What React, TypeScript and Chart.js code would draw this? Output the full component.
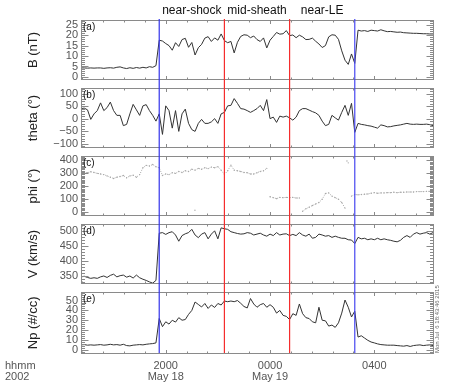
import React, { useEffect, useRef } from 'react';
import { Chart, registerables } from 'chart.js';

Chart.register(...registerables);

const FONT = '"Liberation Sans", Arial, Helvetica, sans-serif';
const AXIS = '#8a8a8a';
const LABEL = '#555';

// time axis: hours since 00:00 UT 18 May 2002
const X_MIN = 16.75;
const X_MAX = 30.25;
const T0 = 16.75; // first sample
const DT = 0.125; // sample spacing (h)
const X_MAJOR = [20, 24, 28];
const X_MINOR = 0.8;
const X_TICK_LABELS: Record<number, string[]> = { 20: ['2000', 'May 18'], 24: ['0000', 'May 19'], 28: ['0400'] };
const X_UNIT_LABEL = ['hhmm', '2002'];

// event lines
const EVENT_TIMES = [19.75, 22.25, 24.75, 27.25];
const EVENT_COLORS = ['rgb(52,52,235)', 'rgb(245,45,45)', 'rgb(245,45,45)', 'rgb(70,70,240)'];
const REGION_LABELS = ['near-shock', 'mid-sheath', 'near-LE'];
const STAMP = 'Mon Jul  6 18:43:46 2015';

// (a) |B| nT
const B_NT = [
  4.3, 4.3, 4.2, 4.3, 4.2, 4.3, 4.3, 4.1, 4.3, 4.4,
  4.2, 4.6, 4.8, 4.3, 4.0, 4.4, 4.1, 4.5, 4.2, 4.6,
  4.3, 4.9, 4.6, 5.4, 17.6, 17.2, 16.0, 15.0, 12.8, 16.4,
  14.6, 17.9, 18.5, 14.2, 16.5, 10.5, 14.0, 15.6, 18.6, 19.3,
  17.0, 18.7, 17.6, 20.6, 17.4, 16.4, 17.0, 11.5, 16.6, 19.4,
  20.2, 20.0, 18.8, 19.6, 17.9, 17.0, 18.7, 13.9, 17.6, 19.4,
  21.3, 20.5, 20.7, 22.2, 19.8, 20.1, 18.8, 20.0, 19.2, 17.9,
  18.0, 18.6, 17.1, 15.8, 14.1, 15.0, 19.2, 20.2, 20.0, 18.0,
  12.5, 8.0, 6.0, 11.0, 6.5, 22.4, 22.0, 22.2, 21.8, 22.4,
  22.2, 22.0, 22.6, 22.1, 21.7, 21.8, 21.6, 21.4, 21.5, 21.2,
  21.1, 21.0, 20.9, 20.9, 20.8, 20.7, 20.7, 20.6, 20.6,
];

// (b) theta deg
const THETA = [
  40, 42, 35, -3, 19, 32, 63, 32, 44, 66,
  32, 13, 13, -28, -23, 19, 57, 35, 13, 51,
  56, 32, 13, -10, 19, -63, 51, 32, -38, 32,
  -51, 19, 38, -19, -44, -51, -19, -3, -19, -19,
  -13, 0, -19, 19, 25, 51, 53, 80, 61, 40,
  38, 32, 25, 32, 40, 53, 32, 76, 0, 6,
  -15, 10, 6, 10, 3, -6, 6, 32, 40, 40,
  34, 28, 23, 13, -10, -28, -23, 13, 3, -6,
  25, 53, 13, 61, -55, -19, -23, -25, -28, -30,
  -34, -38, -25, -28, -33, -32, -29, -27, -25, -22,
  -19, -22, -23, -22, -23, -23, -22, -24, -28,
];

// (c) phi deg
const PHI = [
  314, 306, 304, 311, 306, 299, 294, 289, 279, 269,
  259, 269, 274, 282, 264, 279, 284, 269, 289, 343,
  361, 356, 368, 351, 343, 282, 294, 289, 304, 299,
  314, 306, 319, 314, 331, 324, 338, 331, 343, 336,
  348, 343, 351, 324, 289, 319, 363, 324, 319, 314,
  306, 304, 294, 294, 304, 314, 319, 338, 116, 109,
  101, 111, 109, 111, 109, 111, 106, 106, 2, 22,
  34, 47, 59, 71, 96, 141, 146, 121, 109, 96,
  71, 27, 381, 121, 133, 131, 133, 136, 138, 143,
  148, 143, 146, 146, 148, 148, 151, 148, 151, 151,
  153, 153, 153, 156, 156, 156, 158, 158, 160,
];
const PHI_EXTRA_T = [21.12, 26.95];
const PHI_EXTRA_V = [10, 395];

// (d) V km/s
const V_KMS = [
  346, 348, 344, 341, 343, 341, 346, 349, 344, 351,
  355, 346, 350, 352, 345, 349, 342, 352, 343, 338,
  334, 329, 325, 334, 493, 495, 489, 495, 498, 487,
  466, 485, 491, 495, 506, 487, 478, 490, 495, 474,
  490, 501, 474, 511, 508, 506, 498, 495, 492, 490,
  491, 495, 493, 487, 490, 493, 487, 483, 490, 485,
  495, 487, 490, 491, 485, 489, 485, 495, 487, 483,
  490, 476, 479, 490, 487, 483, 485, 479, 483, 479,
  476, 476, 471, 470, 458, 479, 474, 476, 471, 474,
  471, 476, 471, 474, 471, 469, 466, 464, 469, 479,
  485, 479, 490, 495, 490, 493, 495, 490, 495,
];

// (e) Np #/cc
const NP = [
  5.2, 5.5, 4.9, 5.2, 4.9, 5.2, 5.5, 4.9, 5.2, 5.8,
  5.2, 5.5, 4.9, 5.8, 4.5, 4.2, 4.9, 5.2, 5.5, 5.2,
  5.8, 6.2, 6.5, 7.2, 31.8, 23.6, 28.5, 26.2, 30.1, 28.2,
  32.7, 30.1, 30.8, 36.0, 40.0, 48.5, 46.0, 43.5, 47.0, 42.0,
  45.5, 43.0, 47.0, 45.5, 49.5, 48.8, 49.5, 48.8, 50.0, 47.2,
  44.0, 42.5, 52.0, 46.5, 43.2, 45.8, 47.0, 43.2, 45.8, 43.2,
  37.3, 40.0, 35.0, 34.0, 30.8, 36.7, 35.0, 46.5, 36.7, 32.7,
  31.8, 28.5, 27.5, 43.2, 30.1, 29.5, 24.2, 25.2, 22.9, 27.5,
  37.3, 50.5, 43.2, 33.4, 39.3, 13.1, 14.4, 12.1, 9.8, 8.1,
  7.2, 6.2, 5.5, 5.2, 4.9, 4.9, 4.9, 4.5, 4.2, 3.9,
  4.5, 3.6, 4.5, 4.9, 5.2, 4.5, 4.9, 5.2, 4.5,
];

type Panel = {
  tag: string;
  title: string;
  values: number[];
  range: [number, number];
  ticks: number[];
  minor: number;
  top: number;
  dotted?: boolean;
  showX?: boolean;
};

const PANEL_H = 62;
const PAD_T = 8;
const X_AXIS_H = 34;

const PANELS: Panel[] = [
  { tag: '(a)', title: 'B (nT)', values: B_NT, range: [-1.2, 27], ticks: [0, 5, 10, 15, 20, 25], minor: 1, top: 19 },
  { tag: '(b)', title: 'theta (°)', values: THETA, range: [-115, 120], ticks: [-100, -50, 0, 50, 100], minor: 10, top: 87 },
  { tag: '(c)', title: 'phi (°)', values: PHI, range: [-30, 430], ticks: [0, 100, 200, 300, 400], minor: 10, top: 155, dotted: true },
  { tag: '(d)', title: 'V (km/s)', values: V_KMS, range: [324, 522], ticks: [350, 400, 450, 500], minor: 10, top: 223 },
  { tag: '(e)', title: 'Np (#/cc)', values: NP, range: [-3, 58], ticks: [0, 10, 20, 30, 40, 50], minor: 2, top: 291, showX: true },
];

const canvasH = (p: Panel) => PAD_T + PANEL_H + (p.showX ? X_AXIS_H : 8);

function framePlugin(p: Panel) {
  return {
    id: 'frame',
    afterDraw(chart: any) {
      const { ctx, chartArea: a } = chart;
      const xs = chart.scales.x;
      const ys = chart.scales.y;
      const L = Math.floor(a.left) + 0.5;
      const R = Math.floor(a.right) + 0.5;
      const T = Math.floor(a.top) + 0.5;
      const B = Math.floor(a.bottom) + 0.5;
      ctx.save();
      ctx.strokeStyle = AXIS;
      ctx.lineWidth = 1;
      ctx.strokeRect(L, T, R - L, B - T);
      ctx.beginPath();
      for (let k = Math.ceil(p.range[0] / p.minor); k * p.minor <= p.range[1]; k++) {
        const v = k * p.minor;
        const major = p.ticks.some((t) => Math.abs(t - v) < 1e-6);
        const y = Math.round(ys.getPixelForValue(v)) + 0.5;
        const len = major ? 7 : 3.5;
        ctx.moveTo(L, y); ctx.lineTo(L + len, y);
        ctx.moveTo(R, y); ctx.lineTo(R - len, y);
      }
      for (let k = -10; k <= 20; k++) {
        const v = X_MAJOR[0] + k * X_MINOR;
        if (v < X_MIN || v > X_MAX) continue;
        const major = k % 5 === 0;
        const x = Math.round(xs.getPixelForValue(v)) + 0.5;
        const len = major ? 3.5 : 2;
        ctx.moveTo(x, T); ctx.lineTo(x, T + len);
        ctx.moveTo(x, B); ctx.lineTo(x, B - len);
      }
      ctx.stroke();
      ctx.fillStyle = '#111';
      ctx.font = `10px ${FONT}`;
      ctx.textBaseline = 'top';
      ctx.textAlign = 'left';
      ctx.fillText(p.tag, a.left + 2, a.top + 2);
      if (p.showX) {
        ctx.fillStyle = LABEL;
        ctx.font = `11px ${FONT}`;
        ctx.textBaseline = 'middle';
        const y0 = xs.top + 7 + 5.5;
        X_UNIT_LABEL.forEach((s, i) => ctx.fillText(s, 5, y0 + i * 11));
      }
      ctx.restore();
    },
  };
}

function panelConfig(p: Panel): any {
  const series = p.values.map((v, i) => ({ x: T0 + i * DT, y: v }));
  const datasets: any[] = [];
  if (p.dotted) {
    datasets.push({
      data: series,
      borderColor: '#a8a8a8',
      borderWidth: 1,
      borderDash: [1, 1.5],
      pointRadius: 0.7,
      pointBorderWidth: 0,
      pointBackgroundColor: '#a8a8a8',
      segment: {
        borderColor: (c: any) => (Math.abs(c.p0.parsed.y - c.p1.parsed.y) > 90 ? 'rgba(0,0,0,0)' : '#a8a8a8'),
      },
    });
    datasets.push({
      data: PHI_EXTRA_T.map((t, i) => ({ x: t, y: PHI_EXTRA_V[i] })),
      showLine: false,
      pointRadius: 0.7,
      pointBorderWidth: 0,
      pointBackgroundColor: '#a8a8a8',
    });
  } else {
    datasets.push({ data: series, borderColor: '#333', borderWidth: 1, pointRadius: 0, tension: 0 });
  }
  return {
    type: 'line',
    data: { datasets },
    options: {
      responsive: false,
      maintainAspectRatio: false,
      animation: false,
      events: [],
      layout: { padding: { left: 0, right: 19, top: PAD_T, bottom: p.showX ? 0 : 8 } },
      plugins: { legend: { display: false }, tooltip: { enabled: false } },
      scales: {
        x: {
          type: 'linear',
          min: X_MIN,
          max: X_MAX,
          display: !!p.showX,
          grid: { display: false, drawTicks: false },
          border: { display: false },
          afterBuildTicks: (s: any) => { s.ticks = X_MAJOR.map((v) => ({ value: v })); },
          afterFit: (s: any) => { s.height = p.showX ? X_AXIS_H : 0; },
          ticks: {
            autoSkip: false,
            maxRotation: 0,
            padding: 7,
            color: LABEL,
            font: { family: FONT, size: 11, lineHeight: 1 },
            callback: (v: number) => X_TICK_LABELS[v] || '',
          },
        },
        y: {
          type: 'linear',
          min: p.range[0],
          max: p.range[1],
          grid: { display: false, drawTicks: false },
          border: { display: false },
          afterBuildTicks: (s: any) => { s.ticks = p.ticks.map((v) => ({ value: v })); },
          afterFit: (s: any) => { s.width = 81; },
          ticks: {
            autoSkip: false,
            padding: 3,
            color: LABEL,
            font: { family: FONT, size: 11 },
            callback: (v: number) => String(v).replace('-', '\u2212'),
          },
          title: {
            display: true,
            text: p.title,
            color: '#222',
            font: { family: FONT, size: 13 },
            padding: { top: 26, bottom: 0 },
          },
        },
      },
    },
    plugins: [framePlugin(p)],
  };
}

function overlayConfig(): any {
  return {
    type: 'line',
    data: {
      datasets: EVENT_TIMES.map((t, k) => ({
        data: [{ x: t, y: 0 }, { x: t, y: 1 }],
        borderColor: EVENT_COLORS[k],
        borderWidth: 1.2,
        pointRadius: 0,
      })),
    },
    options: {
      responsive: false,
      maintainAspectRatio: false,
      animation: false,
      events: [],
      layout: { padding: { left: 81, right: 19, top: 19, bottom: 0 } },
      plugins: { legend: { display: false }, tooltip: { enabled: false } },
      scales: {
        x: { type: 'linear', min: X_MIN, max: X_MAX, display: false },
        y: { type: 'linear', min: 0, max: 1, display: false },
      },
    },
    plugins: [
      {
        id: 'labels',
        afterDraw(chart: any) {
          const { ctx } = chart;
          const xs = chart.scales.x;
          ctx.save();
          ctx.fillStyle = '#111';
          ctx.font = `12px ${FONT}`;
          ctx.textAlign = 'center';
          ctx.textBaseline = 'alphabetic';
          REGION_LABELS.forEach((s, i) => {
            const x = xs.getPixelForValue((EVENT_TIMES[i] + EVENT_TIMES[i + 1]) / 2);
            ctx.fillText(s, x, 14);
          });
          ctx.translate(437.5, 353);
          ctx.rotate(-Math.PI / 2);
          ctx.fillStyle = '#666';
          ctx.font = `6px ${FONT}`;
          ctx.textAlign = 'left';
          ctx.textBaseline = 'middle';
          ctx.fillText(STAMP, 0, 0);
          ctx.restore();
        },
      },
    ],
  };
}

export default function App() {
  const refs = useRef<(HTMLCanvasElement | null)[]>([]);
  useEffect(() => {
    const charts: Chart[] = [];
    PANELS.forEach((p, k) => {
      const c = refs.current[k];
      if (c) charts.push(new Chart(c, panelConfig(p)));
    });
    const o = refs.current[PANELS.length];
    if (o) charts.push(new Chart(o, overlayConfig()));
    return () => charts.forEach((c) => c.destroy());
  }, []);
  return (
    <div style={{ position: 'absolute', left: 0, top: 0, width: 452, height: 387, background: '#fff', overflow: 'hidden' }}>
      {PANELS.map((p, k) => (
        <canvas
          key={p.tag}
          ref={(el) => { refs.current[k] = el; }}
          width={452}
          height={canvasH(p)}
          style={{ position: 'absolute', left: 0, top: p.top - PAD_T, width: 452, height: canvasH(p) }}
        />
      ))}
      <canvas
        ref={(el) => { refs.current[PANELS.length] = el; }}
        width={452}
        height={353}
        style={{ position: 'absolute', left: 0, top: 0, width: 452, height: 353 }}
      />
    </div>
  );
}
